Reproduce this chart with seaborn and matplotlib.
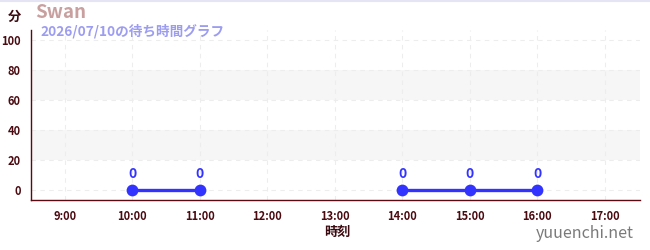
import numpy as np
import pandas as pd
import matplotlib
matplotlib.use("Agg")
import matplotlib.pyplot as plt
import seaborn as sns
from matplotlib.ticker import MultipleLocator

hours = [10, 11, 14, 15, 16]
waits = [0, 0, 0, 0, 0]
segments = [0, 0, 1, 1, 1]
xtick_labels = ["9:00", "10:00", "11:00", "12:00", "13:00", "14:00", "15:00", "16:00", "17:00"]
xticks = [9, 10, 11, 12, 13, 14, 15, 16, 17]
yticks = [0, 20, 40, 60, 80, 100]
title = "Swan"
subtitle = "2026/07/10の待ち時間グラフ"

sns.set_style("white")
plt.rcParams['font.family'] = ['Noto Sans CJK JP', 'DejaVu Sans']

df = pd.DataFrame({"hour": hours, "wait": waits, "seg": segments})

fig = plt.figure(figsize=(6.5, 2.5), dpi=100)
ax = fig.add_axes([31/650, 1-200/250, (640-31)/650, (200-30)/250])

for lo, hi in [(20, 40), (60, 80)]:
    ax.axhspan(lo, hi, color="#f6f6f6", zorder=0, lw=0)

line_color = "#3333ff"
sns.lineplot(data=df, x="hour", y="wait", units="seg", estimator=None, ax=ax,
             color=line_color, lw=2.4, marker="o", markersize=8.5,
             markeredgewidth=0, zorder=3)
for h, w in zip(hours, waits):
    ax.annotate(f"{int(w)}", (h, w), xytext=(0, 6.5), textcoords="offset points",
                ha="center", va="bottom", color=line_color, fontsize=10, fontweight="bold")

ax.set_xlim(8.5, 17.52)
ax.set_ylim(-6.7, 107)
ax.set_xticks(xticks)
ax.set_xticklabels(xtick_labels)
ax.set_yticks(yticks)
ax.yaxis.set_minor_locator(MultipleLocator(10))
ax.grid(True, which="major", color="#ededed", ls=(0, (4, 4)), lw=0.8)
ax.set_axisbelow(True)

tick_col = "#4a0a10"
ax.tick_params(axis="both", which="major", colors="#111111", labelcolor=tick_col,
               labelsize=8, length=4, width=0.8, direction="out")
ax.tick_params(axis="y", which="minor", colors="#dd0000", length=3, width=0.8)
for lab in ax.get_xticklabels() + ax.get_yticklabels():
    lab.set_fontweight("bold")
for s in ["top", "right"]:
    ax.spines[s].set_visible(False)
for s in ["left", "bottom"]:
    ax.spines[s].set_color("#5a0a10")
    ax.spines[s].set_linewidth(1.0)
ax.set_xlabel("")
ax.set_ylabel("")

fig.text(337/650, 1-232/250, "時刻", ha="center", va="center", fontsize=9.5,
         fontweight="bold", color="#3a0a10")
fig.text(14/650, 1-17/250, "分", ha="center", va="center", fontsize=9.5,
         fontweight="bold", color="#3a0a10")
fig.text(35/650, 1-12/250, title, ha="left", va="center", fontsize=13.5,
         fontweight="bold", color="#c9a0a0")
fig.text(40/650, 1-31/250, subtitle, ha="left", va="center", fontsize=9.8,
         fontweight="bold", color="#9c9cf0")
fig.text(634/650, 1-233/250, "yuuenchi.net", ha="right", va="center", fontsize=11.5,
         color="#7a7a7a")
fig.add_artist(plt.Line2D([0, 1], [0.998, 0.998], color="#e4e4f4", lw=1.5,
                          transform=fig.transFigure))

fig.savefig("out.png", dpi=100)
